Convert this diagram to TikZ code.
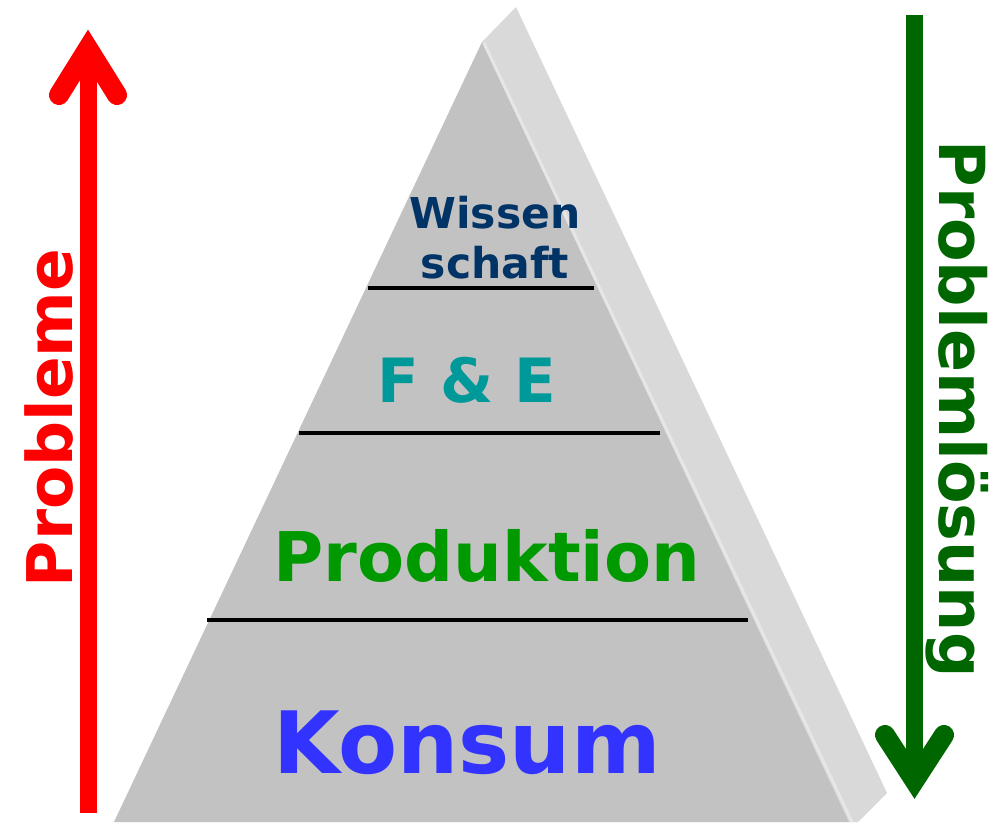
\documentclass[tikz,border=0pt]{standalone}
\usepackage{fontspec}
\setmainfont{DejaVu Sans}
\definecolor{frontgray}{HTML}{C2C2C2}
\definecolor{sidegray}{HTML}{D9D9D9}
\definecolor{ridge}{HTML}{E6E6E6}
\definecolor{probred}{HTML}{FF0000}
\definecolor{lsggreen}{HTML}{006600}
\definecolor{wissblue}{HTML}{003366}
\definecolor{feteal}{HTML}{009999}
\definecolor{prodgreen}{HTML}{009900}
\definecolor{konsblue}{HTML}{3333FF}
\tikzset{
  levelline/.style={black, line width=4.5pt},
  shaft/.style={line width=17pt, line cap=butt},
  head/.style={line width=20pt, line cap=round, line join=miter},
  lbl/.style={font=\bfseries, inner sep=0, anchor=base},
}
\begin{document}
\begin{tikzpicture}[x=1pt, y=-1pt]
\useasboundingbox (0,0) rectangle (1000,822);
\fill[white] (0,0) rectangle (1000,822);
% pyramid side face
\fill[sidegray] (482,42) -- (516,7) -- (887,793) -- (858,822) -- (849,822) -- cycle;
% front face
\fill[frontgray] (482,42) -- (849,822) -- (114,822) -- cycle;
% ridge highlight
\draw[ridge, line width=3pt] (484,43) -- (852,822);
% level lines
\draw[black, line width=3.5pt] (368,288) -- (594,288);
\draw[levelline] (299,433) -- (660,433);
\draw[levelline] (207,620) -- (748,620);
% labels
\node[lbl, text=wissblue, font=\bfseries\fontsize{42.5}{42.5}\selectfont] (wissen) at (495,228) {Wissen};
\node[lbl, text=wissblue, font=\bfseries\fontsize{42.5}{42.5}\selectfont] (schaft) at (495,278) {schaft};
\node[lbl, text=feteal, font=\bfseries\fontsize{61}{61}\selectfont] (fe) at (467,402) {F \& E};
\node[lbl, text=prodgreen, font=\bfseries\fontsize{68.5}{68.5}\selectfont] (prod) at (487,581) {Produktion};
\node[lbl, text=konsblue, font=\bfseries\fontsize{86}{86}\selectfont] (kons) at (467,773) {Konsum};
\node[lbl, text=probred, rotate=90, font=\bfseries\fontsize{63}{63}\selectfont] (probleme) at (72,418) {Probleme};
\node[lbl, text=lsggreen, rotate=-90, font=\bfseries\fontsize{63.5}{63.5}\selectfont] (loesung) at (939,409) {Problemlösung};
% red arrow (up)
\coordinate (rbot) at (88,813);
\coordinate (rtip) at (88,48.5);
\coordinate (rl) at (59,95);
\coordinate (rr) at (117,95);
\draw[probred, shaft] (rbot) -- ([yshift=5]rtip);
\draw[probred, head] (rl) -- (rtip) -- (rr);
% green arrow (down)
\coordinate (gtop) at (914.5,15);
\coordinate (gtip) at (914.5,780.5);
\coordinate (gl) at (885,735);
\coordinate (gr) at (944,735);
\draw[lsggreen, shaft] (gtop) -- ([yshift=-5]gtip);
\draw[lsggreen, head] (gl) -- (gtip) -- (gr);
\end{tikzpicture}
\end{document}
